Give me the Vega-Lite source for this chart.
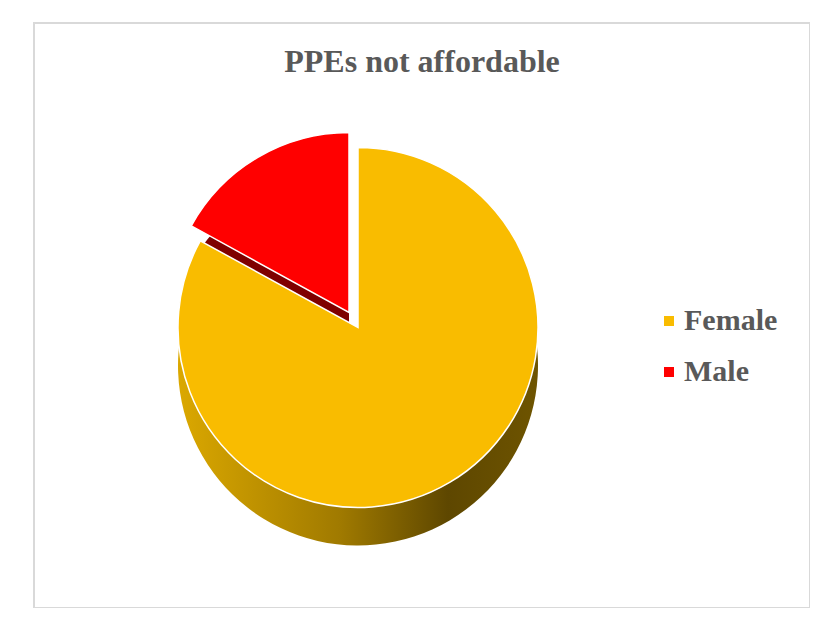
{
  "$schema": "https://vega.github.io/schema/vega-lite/v6.json",
  "width": 776,
  "height": 585,
  "autosize": {"type": "none"},
  "padding": {"left": 34, "top": 23, "right": 0, "bottom": 0},
  "background": "white",
  "view": {"stroke": "#d9d9d9", "strokeWidth": 2, "fill": "white"},
  "title": {
    "text": "PPEs not affordable",
    "font": "Liberation Serif",
    "fontSize": 32,
    "fontWeight": "bold",
    "color": "#595959",
    "anchor": "middle",
    "orient": "top",
    "offset": -56,
    "frame": "group"
  },
  "data": {
    "values": [
      {"gender": "Female", "value": 83},
      {"gender": "Male", "value": 17}
    ]
  },
  "transform": [
    {"stack": "value", "groupby": [], "as": ["v0", "v1"], "sort": [{"field": "gender", "order": "ascending"}]}
  ],
  "encoding": {
    "theta": {"field": "v0", "type": "quantitative", "stack": null, "scale": {"domain": [0, 100]}},
    "theta2": {"field": "v1"}
  },
  "layer": [
    {
      "transform": [{"filter": "datum.gender == 'Female'"}],
      "mark": {
        "type": "arc",
        "radius": 180,
        "xOffset": -64,
        "yOffset": 50,
        "fill": {
          "gradient": "linear",
          "x1": 0, "y1": 0, "x2": 1, "y2": 0,
          "stops": [
            {"offset": 0, "color": "#dba800"},
            {"offset": 0.45, "color": "#a07a00"},
            {"offset": 0.75, "color": "#5e4700"},
            {"offset": 1, "color": "#6e5400"}
          ]
        }
      }
    },
    {
      "transform": [{"filter": "datum.gender == 'Male'"}],
      "mark": {"type": "arc", "radius": 180, "xOffset": -73, "yOffset": 35, "fill": "#7f0000"}
    },
    {
      "transform": [{"filter": "datum.gender == 'Female'"}],
      "mark": {"type": "arc", "radius": 180, "xOffset": -64, "yOffset": 12, "stroke": "white", "strokeWidth": 1.5},
      "encoding": {
        "color": {
          "field": "gender",
          "type": "nominal",
          "scale": {"domain": ["Female", "Male"], "range": ["#f9bc00", "#ff0000"]},
          "legend": {
            "title": null,
            "orient": "none",
            "legendX": 620,
            "legendY": 283,
            "symbolType": "square",
            "symbolSize": 100,
            "symbolStrokeWidth": 0,
            "labelFont": "Liberation Serif",
            "labelFontSize": 30,
            "labelFontWeight": "bold",
            "labelColor": "#595959",
            "labelOffset": 0,
            "rowPadding": 21
          }
        }
      }
    },
    {
      "transform": [{"filter": "datum.gender == 'Male'"}],
      "mark": {"type": "arc", "radius": 180, "xOffset": -73, "yOffset": -3, "stroke": "white", "strokeWidth": 1.5},
      "encoding": {
        "color": {"field": "gender", "type": "nominal"}
      }
    }
  ]
}
